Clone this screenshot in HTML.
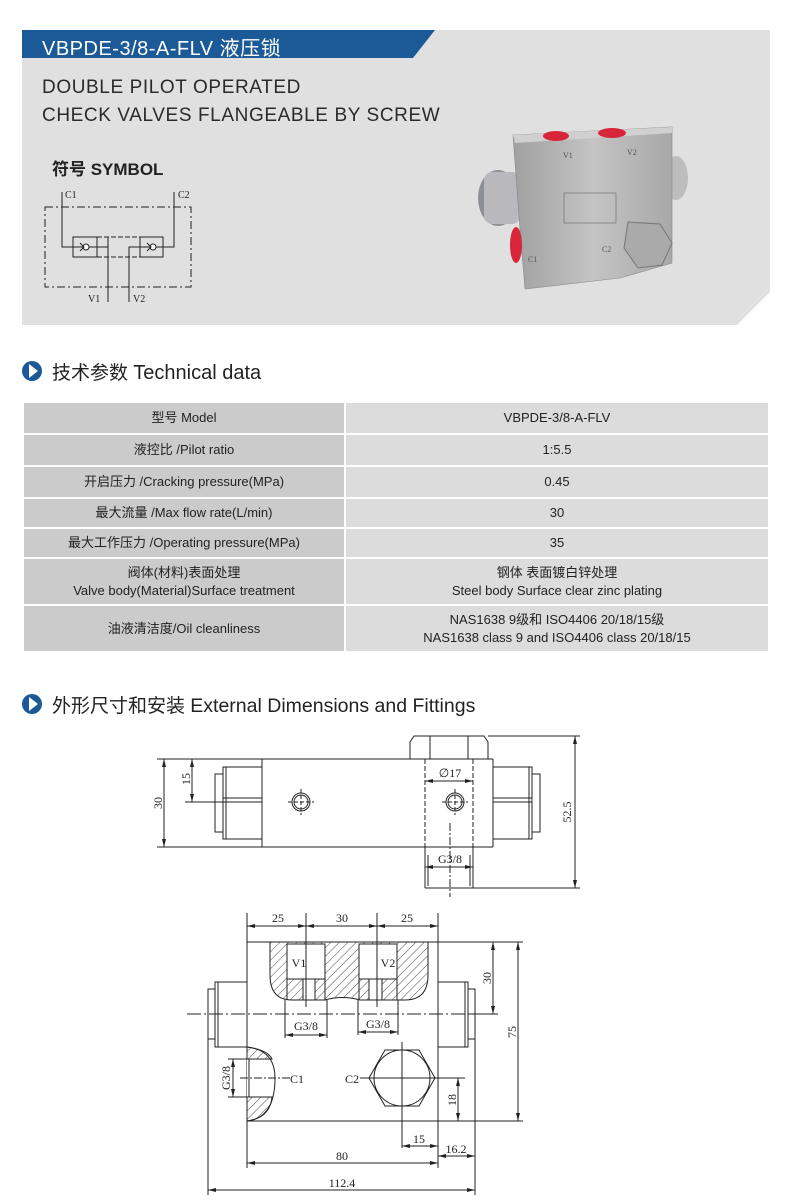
<!DOCTYPE html>
<html><head><meta charset="utf-8">
<style>
body{margin:0;width:790px;height:1202px;background:#fff;position:relative;overflow:hidden;font-family:"Liberation Sans","Noto Sans CJK SC",sans-serif;}
.a{position:absolute;white-space:nowrap;}
table{position:absolute;left:22px;top:401px;width:748px;border-collapse:collapse;font-size:13px;color:#222;}
td{text-align:center;border:2px solid #fff;padding:0;line-height:18px;}
td.l{background:#cbcbcb;width:320px;}
td.r{background:#dcdcdc;}
.h{font-size:19px;color:#222;}
</style></head><body>
<svg class="a" style="left:0;top:0" width="790" height="330">
<polygon points="22,30 770,30 770,292 737,325 22,325" fill="#e0e0e0"/>
<polygon points="22,30 435,30 413,58 22,58" fill="#1b5a96"/>
<g stroke="#222" fill="none" stroke-width="1">
<rect x="45" y="207" width="146" height="80" stroke-dasharray="8,3,2,3"/>
<polyline points="62,192 62,247 73,247"/>
<polyline points="174,192 174,247 163,247"/>
<rect x="73" y="237" width="24" height="20" fill="#e0e0e0"/>
<rect x="140" y="237" width="23" height="20" fill="#e0e0e0"/>
<line x1="97" y1="237" x2="140" y2="237" stroke-dasharray="5,2"/>
<line x1="97" y1="257" x2="140" y2="257" stroke-dasharray="5,2"/>
<polyline points="97,247 108,247 108,302"/>
<polyline points="108,237 108,247"/>
<polyline points="140,247 129,247 129,302"/>
<line x1="73" y1="247" x2="97" y2="247"/><line x1="140" y1="247" x2="163" y2="247"/>
<circle cx="86" cy="247" r="3" fill="#fff"/><circle cx="153" cy="247" r="3" fill="#fff"/>
<polyline points="80,243 84,247 80,251"/><polyline points="147,243 151,247 147,251"/>
</g>
<g font-family="Liberation Serif,serif" font-size="10" fill="#222">
<text x="65" y="198">C1</text><text x="178" y="198">C2</text>
<text x="88" y="302">V1</text><text x="133" y="302">V2</text></g>
<defs><linearGradient id="g1" x1="0" x2="1"><stop offset="0" stop-color="#a0a0a0"/><stop offset=".5" stop-color="#c4c4c4"/><stop offset="1" stop-color="#a8a8a8"/></linearGradient></defs>
<ellipse cx="498" cy="198" rx="20" ry="28" fill="#8d8f96"/>
<rect x="484" y="172" width="36" height="52" rx="8" fill="#b9b9bd"/>
<ellipse cx="676" cy="178" rx="12" ry="22" fill="#bdbdbd"/>
<polygon points="513,135 672,127 672,263 620,278 525,289 520,230" fill="url(#g1)" stroke="#888" stroke-width=".6"/>
<polygon points="513,135 672,127 672,133 515,143" fill="#d0d0d0"/>
<ellipse cx="556" cy="136" rx="13" ry="5" fill="#d7263a"/>
<ellipse cx="612" cy="133" rx="14" ry="5" fill="#d7263a"/>
<ellipse cx="516" cy="245" rx="6" ry="18" fill="#d7263a"/>
<polygon points="628,222 660,224 672,243 662,265 638,268 624,248" fill="#aaa" stroke="#777"/>
<g font-family="Liberation Serif,serif" font-size="8" fill="#555"><text x="563" y="158">V1</text><text x="627" y="155">V2</text><text x="528" y="262">C1</text><text x="602" y="252">C2</text></g>
<rect x="564" y="193" width="52" height="30" fill="none" stroke="#666" stroke-width=".6"/>
</svg>
<div class="a" style="left:42px;top:32px;font-size:20px;color:#fff;letter-spacing:.5px">VBPDE-3/8-A-FLV 液压锁</div>
<div class="a" style="left:42px;top:74px;font-size:19px;color:#2a2a2a;line-height:28px;letter-spacing:.6px">DOUBLE PILOT OPERATED<br>CHECK VALVES FLANGEABLE BY SCREW</div>
<div class="a" style="left:52px;top:155px;font-size:17px;font-weight:bold;color:#222">符号 SYMBOL</div>

<svg class="a" style="left:22px;top:359px" width="22" height="24"><circle cx="10" cy="12" r="10" fill="#1b5a96"/><polygon points="7,5 16,12 7,19" fill="#fff"/></svg>
<div class="a h" style="left:52px;top:358px">技术参数 <span style="font-size:20px">Technical data</span></div>

<table>
<tr style="height:32px"><td class="l">型号 Model</td><td class="r">VBPDE-3/8-A-FLV</td></tr>
<tr style="height:32px"><td class="l">液控比 /Pilot ratio</td><td class="r">1:5.5</td></tr>
<tr style="height:32px"><td class="l">开启压力 /Cracking pressure(MPa)</td><td class="r">0.45</td></tr>
<tr style="height:30px"><td class="l">最大流量 /Max flow rate(L/min)</td><td class="r">30</td></tr>
<tr style="height:30px"><td class="l">最大工作压力 /Operating pressure(MPa)</td><td class="r">35</td></tr>
<tr style="height:47px"><td class="l">阀体(材料)表面处理<br>Valve body(Material)Surface treatment</td><td class="r">钢体 表面镀白锌处理<br>Steel body Surface clear zinc plating</td></tr>
<tr style="height:47px"><td class="l">油液清洁度/Oil cleanliness</td><td class="r">NAS1638 9级和 ISO4406 20/18/15级<br>NAS1638 class 9 and ISO4406 class 20/18/15</td></tr>
</table>

<svg class="a" style="left:22px;top:692px" width="22" height="24"><circle cx="10" cy="12" r="10" fill="#1b5a96"/><polygon points="7,5 16,12 7,19" fill="#fff"/></svg>
<div class="a h" style="left:52px;top:691px">外形尺寸和安装 <span style="font-size:19.5px">External Dimensions and Fittings</span></div>

<svg class="a" style="left:0;top:720px" width="790" height="482" viewBox="0 720 790 482">
<defs>
<pattern id="hat" width="6" height="6" patternUnits="userSpaceOnUse" patternTransform="rotate(45)"><line x1="0" y1="0" x2="0" y2="6" stroke="#222" stroke-width="0.8"/></pattern>
<marker id="ar" markerWidth="8" markerHeight="6" refX="8" refY="3" orient="auto-start-reverse" markerUnits="userSpaceOnUse"><path d="M0,1 L8,3 L0,5z" fill="#222"/></marker>
</defs>
<g stroke="#222" fill="none" stroke-width="1">
<line x1="157" y1="759" x2="493" y2="759"/><line x1="157" y1="847" x2="493" y2="847"/>
<line x1="262" y1="759" x2="262" y2="847"/><line x1="493" y1="759" x2="493" y2="847"/>
<rect x="223" y="767" width="39" height="72"/><rect x="215" y="774" width="8" height="58"/>
<line x1="226" y1="767" x2="226" y2="839"/><line x1="223" y1="798" x2="262" y2="798"/><line x1="223" y1="802" x2="262" y2="802"/>
<rect x="493" y="767" width="39" height="72"/><rect x="532" y="774" width="8" height="58"/>
<line x1="529" y1="767" x2="529" y2="839"/><line x1="493" y1="798" x2="532" y2="798"/><line x1="493" y1="802" x2="532" y2="802"/>
<polygon points="410,742 414,736 484,736 488,742 488,759 410,759"/>
<line x1="430" y1="736" x2="430" y2="759"/><line x1="468" y1="736" x2="468" y2="759"/>
<line x1="425" y1="759" x2="425" y2="888" stroke-dasharray="5,2"/><line x1="473" y1="759" x2="473" y2="888" stroke-dasharray="5,2"/>
<line x1="425" y1="847" x2="425" y2="888"/><line x1="473" y1="847" x2="473" y2="888"/><line x1="425" y1="888" x2="473" y2="888"/>
<line x1="428" y1="855" x2="428" y2="886"/><line x1="470" y1="855" x2="470" y2="886"/>
<circle cx="301" cy="802" r="9"/><circle cx="301" cy="802" r="7"/>
<line x1="288" y1="802" x2="314" y2="802" stroke-dasharray="4,2"/><line x1="301" y1="789" x2="301" y2="815" stroke-dasharray="4,2"/>
<circle cx="455" cy="802" r="9"/><circle cx="455" cy="802" r="7"/>
<line x1="442" y1="802" x2="468" y2="802" stroke-dasharray="4,2"/><line x1="455" y1="789" x2="455" y2="815" stroke-dasharray="4,2"/>
<line x1="450" y1="823" x2="450" y2="897" stroke-dasharray="8,2,2,2"/>
<line x1="425" y1="781" x2="473" y2="781" marker-start="url(#ar)" marker-end="url(#ar)"/>
<line x1="425" y1="867" x2="473" y2="867" marker-start="url(#ar)" marker-end="url(#ar)"/>
<line x1="164" y1="759" x2="164" y2="847" marker-start="url(#ar)" marker-end="url(#ar)"/>
<line x1="185" y1="802" x2="223" y2="802"/>
<line x1="192" y1="759" x2="192" y2="802" marker-start="url(#ar)" marker-end="url(#ar)"/>
<line x1="488" y1="736" x2="580" y2="736"/><line x1="473" y1="888" x2="580" y2="888"/>
<line x1="575" y1="736" x2="575" y2="888" marker-start="url(#ar)" marker-end="url(#ar)"/>
<rect x="247" y="942" width="191" height="179"/>
<path d="M270,942 L428,942 L428,975 Q428,1000 405,1000 L360,1000 Q342,995 325,1000 L292,1000 Q270,1000 270,975Z" fill="url(#hat)"/>
<rect x="287" y="944" width="38" height="35" fill="#fff"/><rect x="303" y="979" width="12" height="21" fill="#fff"/>
<line x1="287" y1="979" x2="287" y2="1000"/><line x1="325" y1="979" x2="325" y2="1000"/>
<rect x="359" y="944" width="38" height="35" fill="#fff"/><rect x="369" y="979" width="13" height="21" fill="#fff"/>
<line x1="359" y1="979" x2="359" y2="1000"/><line x1="397" y1="979" x2="397" y2="1000"/>
<line x1="306" y1="913" x2="306" y2="1007"/><line x1="377" y1="913" x2="377" y2="1007"/>
<line x1="247" y1="913" x2="247" y2="942"/><line x1="438" y1="913" x2="438" y2="942"/>
<line x1="247" y1="926" x2="306" y2="926" marker-start="url(#ar)" marker-end="url(#ar)"/>
<line x1="306" y1="926" x2="377" y2="926" marker-start="url(#ar)" marker-end="url(#ar)"/>
<line x1="377" y1="926" x2="438" y2="926" marker-start="url(#ar)" marker-end="url(#ar)"/>
<line x1="187" y1="1014" x2="498" y2="1014" stroke-dasharray="14,3,2,3"/>
<rect x="215" y="982" width="32" height="65"/><rect x="208" y="989" width="7" height="50"/>
<line x1="218" y1="982" x2="218" y2="1047"/>
<rect x="438" y="982" width="30" height="65"/><rect x="468" y="989" width="7" height="50"/>
<line x1="465" y1="982" x2="465" y2="1047"/>
<line x1="285" y1="1000" x2="285" y2="1038"/><line x1="327" y1="1000" x2="327" y2="1038"/>
<line x1="285" y1="1035" x2="327" y2="1035" marker-start="url(#ar)" marker-end="url(#ar)"/>
<line x1="358" y1="1000" x2="358" y2="1035"/><line x1="398" y1="1000" x2="398" y2="1035"/>
<line x1="358" y1="1032" x2="398" y2="1032" marker-start="url(#ar)" marker-end="url(#ar)"/>
<path d="M247,1047 Q275,1050 275,1078 Q275,1118 247,1121" fill="#fff"/>
<path d="M247,1047 Q268,1050 272,1059 L247,1059Z" fill="url(#hat)"/>
<path d="M247,1097 L272,1097 Q270,1118 247,1121Z" fill="url(#hat)"/>
<line x1="249" y1="1059" x2="249" y2="1097"/><line x1="249" y1="1059" x2="272" y2="1059"/><line x1="249" y1="1097" x2="272" y2="1097"/>
<line x1="240" y1="1078" x2="290" y2="1078" stroke-dasharray="8,2,2,2"/>
<line x1="228" y1="1059" x2="247" y2="1059"/><line x1="228" y1="1097" x2="247" y2="1097"/>
<line x1="233" y1="1059" x2="233" y2="1097" marker-start="url(#ar)" marker-end="url(#ar)"/>
<polygon points="369,1078 385,1050 419,1050 435,1078 419,1106 385,1106" fill="#fff"/>
<circle cx="402" cy="1078" r="28"/>
<line x1="360" y1="1078" x2="465" y2="1078"/>
<line x1="402" y1="1042" x2="402" y2="1148"/>
<line x1="438" y1="1121" x2="523" y2="1121"/><line x1="428" y1="942" x2="523" y2="942"/>
<line x1="458" y1="1078" x2="458" y2="1121" marker-start="url(#ar)" marker-end="url(#ar)"/>
<line x1="518" y1="942" x2="518" y2="1121" marker-start="url(#ar)" marker-end="url(#ar)"/>
<line x1="470" y1="1014" x2="498" y2="1014"/>
<line x1="493" y1="942" x2="493" y2="1014" marker-start="url(#ar)" marker-end="url(#ar)"/>
<line x1="247" y1="1121" x2="247" y2="1168"/><line x1="438" y1="1121" x2="438" y2="1168"/>
<line x1="208" y1="1039" x2="208" y2="1195"/><line x1="475" y1="1039" x2="475" y2="1195"/>
<line x1="402" y1="1146" x2="438" y2="1146" marker-start="url(#ar)" marker-end="url(#ar)"/>
<line x1="438" y1="1156" x2="475" y2="1156" marker-start="url(#ar)" marker-end="url(#ar)"/>
<line x1="247" y1="1163" x2="438" y2="1163" marker-start="url(#ar)" marker-end="url(#ar)"/>
<line x1="208" y1="1190" x2="475" y2="1190" marker-start="url(#ar)" marker-end="url(#ar)"/>
</g>
<g font-family="Liberation Serif,serif" font-size="12" fill="#222" text-anchor="middle">
<text x="450" y="777">∅17</text><text x="450" y="863">G3/8</text>
<text transform="translate(162,803) rotate(-90)">30</text>
<text transform="translate(190,779) rotate(-90)">15</text>
<text transform="translate(571,812) rotate(-90)">52.5</text>
<text x="278" y="922">25</text><text x="342" y="922">30</text><text x="407" y="922">25</text>
<text x="299" y="967">V1</text><text x="388" y="967">V2</text>
<text x="306" y="1030">G3/8</text><text x="378" y="1028">G3/8</text>
<text transform="translate(230,1078) rotate(-90)">G3/8</text>
<text x="297" y="1083">C1</text><text x="352" y="1083">C2</text>
<text transform="translate(456,1100) rotate(-90)">18</text>
<text transform="translate(516,1032) rotate(-90)">75</text>
<text transform="translate(491,978) rotate(-90)">30</text>
<text x="419" y="1143">15</text><text x="456" y="1153">16.2</text>
<text x="342" y="1160">80</text><text x="342" y="1187">112.4</text>
</g>
</svg>
</body></html>
